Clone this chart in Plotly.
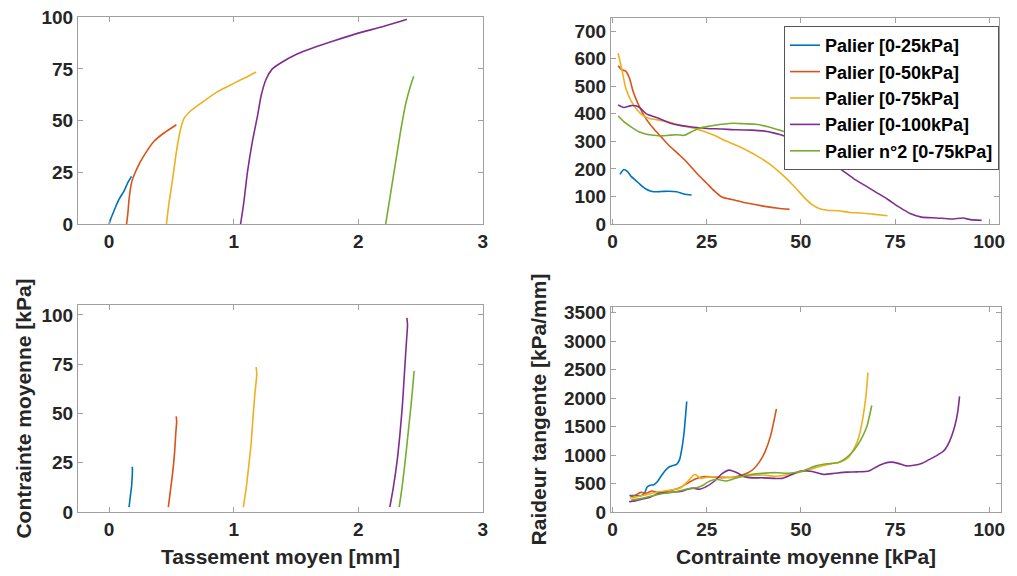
import plotly.graph_objects as go

NAMES = ["Palier [0-25kPa]", "Palier [0-50kPa]", "Palier [0-75kPa]",
         "Palier [0-100kPa]", "Palier n°2 [0-75kPa]"]
COLORS = ["#0072BD", "#D95319", "#EDB120", "#7E2F8E", "#77AC30"]

# --- Top-left: loading curves, settlement [mm] vs mean stress [kPa]
tl_blue_x = [0.0, 0.01, 0.03, 0.05, 0.08, 0.12, 0.15, 0.18]
tl_blue_y = [0, 2, 5, 8, 12, 16, 20, 23]
tl_orange_x = [0.14, 0.15, 0.16, 0.18, 0.21, 0.25, 0.30, 0.36, 0.44, 0.54]
tl_orange_y = [0, 5, 12, 20, 25, 30, 35, 40, 44, 48]
tl_yellow_x = [0.46, 0.48, 0.51, 0.54, 0.57, 0.60, 0.66, 0.75, 0.87, 1.0, 1.1, 1.18]
tl_yellow_y = [0, 10, 22, 35, 45, 51, 55, 59, 64, 68, 71, 73.5]
tl_purple_x = [1.055, 1.08, 1.11, 1.15, 1.19, 1.22, 1.26, 1.31, 1.38, 1.5, 1.65, 1.8, 2.0, 2.2, 2.39]
tl_purple_y = [0, 10, 25, 40, 52, 62, 70, 75, 78, 82, 85.5, 88.5, 92.3, 95.5, 99]
tl_green_x = [2.22, 2.26, 2.30, 2.34, 2.38, 2.42, 2.445]
tl_green_y = [0, 15, 30, 45, 58, 67, 71.5]

# --- Bottom-left: unloading curves
bl_blue_x = [0.16, 0.17, 0.18, 0.185, 0.187, 0.186]
bl_blue_y = [2.5, 8, 13, 18, 21, 23]
bl_orange_x = [0.475, 0.49, 0.51, 0.525, 0.535, 0.542, 0.538]
bl_orange_y = [2.5, 10, 20, 30, 40, 46, 48.5]
bl_yellow_x = [1.077, 1.10, 1.12, 1.14, 1.155, 1.17, 1.185, 1.18]
bl_yellow_y = [2.5, 12, 23, 35, 48, 60, 70, 73.5]
bl_purple_x = [2.253, 2.28, 2.31, 2.335, 2.355, 2.37, 2.385, 2.395, 2.39]
bl_purple_y = [2.5, 12, 25, 40, 55, 70, 85, 95, 98.5]
bl_green_x = [2.328, 2.35, 2.375, 2.40, 2.42, 2.435, 2.448]
bl_green_y = [2.5, 12, 25, 40, 52, 62, 71.5]

# --- Top-right: stiffness during loading vs mean stress
tr_blue_x = [2, 3, 4, 5, 6, 7, 8, 9, 10, 11, 13, 15, 17, 19, 21]
tr_blue_y = [180, 198, 190, 172, 160, 148, 136, 126, 120, 117, 118, 119, 117, 109, 105]
tr_orange_x = [1.5, 2.5, 3.5, 4.5, 5.5, 7, 9, 11, 13, 15, 17, 19, 21, 23, 25, 27, 29, 32, 36, 40, 44, 47]
tr_orange_y = [575, 560, 555, 530, 480, 430, 380, 345, 315, 285, 260, 235, 205, 175, 148, 120, 98, 88, 75, 65, 57, 53]
tr_yellow_x = [1.5, 2.5, 3.5, 5, 6.5, 8, 10, 12, 15, 18, 21, 24, 27, 30, 33, 36, 39, 42, 45, 48, 51, 53, 55, 57, 60, 63, 66, 69, 73]
tr_yellow_y = [620, 560, 495, 445, 415, 395, 382, 378, 370, 358, 350, 338, 322, 302, 285, 265, 242, 215, 180, 140, 95, 70, 55, 50, 48, 42, 40, 36, 30]
tr_purple_x = [1.5, 3, 5, 7, 9, 12, 15, 18, 21, 25, 29, 33, 37, 40, 43, 46, 49, 52, 55, 58, 61, 64, 67, 70, 73, 76, 79, 82, 86, 90, 93, 95, 98]
tr_purple_y = [432, 423, 430, 425, 400, 385, 368, 358, 352, 347, 345, 342, 341, 338, 330, 318, 300, 280, 255, 225, 195, 165, 140, 115, 90, 62, 38, 25, 22, 18, 22, 16, 13]
tr_green_x = [1.5, 3, 5, 7, 9, 11, 13, 15, 17, 19, 21, 23, 26, 29, 32, 35, 38, 41, 44, 47, 50, 53, 56, 59, 62, 65, 68]
tr_green_y = [392, 372, 352, 335, 326, 322, 320, 322, 324, 322, 335, 348, 356, 362, 366, 364, 362, 354, 342, 330, 316, 298, 283, 266, 260, 258, 242]

# --- Bottom-right: tangent stiffness during unloading vs mean stress
br_blue_x = [4.5, 6, 7.5, 8.5, 9.2, 10, 11, 12, 13, 14, 15, 16, 17, 17.8, 18.5, 19, 19.4, 19.7]
br_blue_y = [290, 290, 285, 330, 440, 470, 480, 540, 640, 730, 790, 815, 835, 920, 1150, 1400, 1700, 1940]
br_orange_x = [4.7, 6, 7.5, 9, 10.5, 12, 14, 16, 18, 20, 22, 24, 26, 28, 30, 32, 34, 36, 37.5, 39, 40.5, 42, 43.5]
br_orange_y = [270, 290, 345, 330, 370, 345, 360, 385, 430, 510, 580, 620, 615, 605, 605, 610, 640, 690, 760, 880, 1060, 1350, 1810]
br_yellow_x = [4.7, 6, 8, 10, 12, 14, 16, 18, 20, 21.8, 23.5, 25, 28, 31, 34, 37, 40, 43, 46, 49, 52, 55, 58, 60.5, 62.5, 64, 65.3, 66.3, 67.2, 67.8]
br_yellow_y = [240, 260, 290, 320, 350, 370, 390, 420, 540, 660, 590, 610, 620, 610, 620, 640, 650, 625, 650, 690, 740, 800, 850, 880, 950, 1100, 1300, 1600, 2000, 2450]
br_purple_x = [4.4, 6, 8, 10, 12, 14, 16, 18, 20, 21.5, 23, 25, 27, 29, 31, 33, 35, 37, 40, 43, 45, 47, 50, 53, 56, 59, 62, 65, 68, 70, 72, 74, 76, 78, 80, 82, 84, 86, 88, 89.5, 90.8, 91.6, 92.1]
br_purple_y = [180, 195, 230, 260, 320, 340, 350, 360, 400, 420, 400, 450, 540, 670, 735, 690, 620, 600, 600, 590, 590, 640, 720, 710, 660, 680, 700, 705, 720, 790, 850, 875, 850, 810, 820, 850, 920, 990, 1080, 1250, 1500, 1750, 2030]
br_green_x = [5, 7, 9, 11, 13, 15, 17, 19, 21, 22.5, 24, 26, 28, 30, 32, 34, 36, 38, 40, 42, 44, 46, 48, 50, 52, 54, 56, 58, 60, 62, 64, 66, 67.5, 68.8]
br_green_y = [210, 230, 260, 290, 320, 340, 360, 390, 420, 430, 470, 550, 570, 545, 580, 620, 650, 670, 680, 690, 690, 680, 690, 710, 760, 810, 840, 850, 870, 950, 1080, 1280, 1500, 1870]

panels = [
    ("x", "y", [(tl_blue_x, tl_blue_y), (tl_orange_x, tl_orange_y), (tl_yellow_x, tl_yellow_y),
                (tl_purple_x, tl_purple_y), (tl_green_x, tl_green_y)], False),
    ("x2", "y2", [(tr_blue_x, tr_blue_y), (tr_orange_x, tr_orange_y), (tr_yellow_x, tr_yellow_y),
                  (tr_purple_x, tr_purple_y), (tr_green_x, tr_green_y)], True),
    ("x3", "y3", [(bl_blue_x, bl_blue_y), (bl_orange_x, bl_orange_y), (bl_yellow_x, bl_yellow_y),
                  (bl_purple_x, bl_purple_y), (bl_green_x, bl_green_y)], False),
    ("x4", "y4", [(br_blue_x, br_blue_y), (br_orange_x, br_orange_y), (br_yellow_x, br_yellow_y),
                  (br_purple_x, br_purple_y), (br_green_x, br_green_y)], False),
]

fig = go.Figure()
for xa, ya, series, show in panels:
    for i, (xs, ys) in enumerate(series):
        fig.add_trace(go.Scatter(
            x=xs, y=ys, xaxis=xa, yaxis=ya, mode="lines",
            name=NAMES[i], showlegend=show,
            line=dict(color=COLORS[i], width=1.6, shape="spline", smoothing=0.6),
        ))

FONT = "Liberation Sans, Arial, sans-serif"
TICKFONT = dict(family=FONT, size=19, color="#262626", weight="bold")
TITLEFONT = dict(family=FONT, size=21, color="#262626", weight="bold")

def ax(domain, rng, dtick, anchor, title=None, standoff=None):
    d = dict(domain=domain, range=rng, dtick=dtick, tick0=0, anchor=anchor,
             showline=True, linecolor="#a0a0a0", linewidth=1, mirror="ticks",
             ticks="inside", ticklen=5, tickcolor="#a0a0a0", showgrid=False,
             zeroline=False, tickfont=TICKFONT, automargin=False,
             ticklabeloverflow="allow")
    if title:
        d["title"] = dict(text=title, font=TITLEFONT, standoff=standoff)
    return d

# The page body adds an 8 px margin; size the figure so the page fits the window.
W, H = 1001, 560
OX, OY = 8, 8


def xd(a, b):
    return [max(0.0, (a - OX) / W), min(1.0, (b - OX) / W)]


def yd(top, bottom):
    return [max(0.0, (H - (bottom - OY)) / H), min(1.0, (H - (top - OY)) / H)]


fig.update_layout(
    width=W, height=H,
    margin=dict(l=0, r=0, t=0, b=0, autoexpand=False),
    paper_bgcolor="white", plot_bgcolor="white",
    font=dict(family=FONT, color="#262626"),
    xaxis=ax(xd(78, 483), [-0.25, 3.001], 1, "y"),
    yaxis=ax(yd(17, 224), [0, 100.1], 25, "x"),
    xaxis2=ax(xd(611, 999), [-0.4, 102.6], 25, "y2"),
    yaxis2=ax(yd(18, 224), [0, 748], 100, "x2"),
    xaxis3=ax(xd(78, 483), [-0.25, 3.001], 1, "y3", "Tassement moyen [mm]", 11),
    yaxis3=ax(yd(305, 512), [0, 105], 25, "x3", "Contrainte moyenne [kPa]", 4),
    xaxis4=ax(xd(611, 1001), [-0.4, 103.1], 25, "y4", "Contrainte moyenne [kPa]", 11),
    yaxis4=ax(yd(307, 512), [0, 3600], 500, "x4", "Raideur tangente [kPa/mm]", 11),
    legend=dict(x=(999 - OX) / W, xanchor="right", y=(H - (26 - OY)) / H, yanchor="top",
                bgcolor="white", bordercolor="#555555", borderwidth=1,
                font=dict(family=FONT, size=18, color="black", weight="bold"),
                itemwidth=30, tracegroupgap=0),
)

fig.write_html("out.html")
